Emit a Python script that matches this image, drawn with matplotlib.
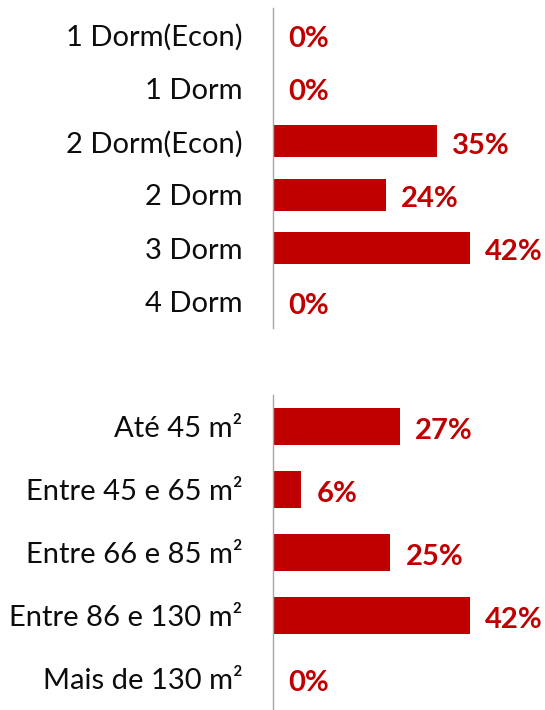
import matplotlib
matplotlib.use("Agg")
import matplotlib.pyplot as plt

# dados
dorm_labels = ["1 Dorm(Econ)", "1 Dorm", "2 Dorm(Econ)", "2 Dorm", "3 Dorm", "4 Dorm"]
dorm_vals = [0, 0, 35, 24, 42, 0]

area_labels = ["Até 45 m²", "Entre 45 e 65 m²", "Entre 66 e 85 m²",
               "Entre 86 e 130 m²", "Mais de 130 m²"]
area_vals = [27, 6, 25, 42, 0]

RED = "#C00000"
plt.rcParams["font.family"] = ["Lato", "DejaVu Sans"]

fig = plt.figure(figsize=(5.45, 7.10), dpi=100)

def draw_panel(ax, labels, vals):
    y = list(range(len(labels)))
    ax.barh(y, vals, height=0.6, color=RED)
    ax.set_ylim(len(labels) - 0.5, -0.5)
    ax.set_xlim(0, 58)
    ax.set_yticks(y)
    ax.set_yticklabels(labels, fontsize=21, color="#0d0d0d")
    ax.tick_params(axis="y", length=0, pad=22)
    ax.set_xticks([])
    for s in ["top", "right", "bottom"]:
        ax.spines[s].set_visible(False)
    ax.spines["left"].set_color("#a6a6a6")
    ax.spines["left"].set_linewidth(1.0)
    for yi, v in zip(y, vals):
        ax.annotate(f"{v}%", xy=(v, yi), xytext=(11, -3), textcoords="offset points",
                    ha="left", va="center", fontsize=21, fontweight="bold", color=RED)

ax1 = fig.add_axes([273 / 545, 1 - 328 / 710, 272 / 545, 320 / 710])
draw_panel(ax1, dorm_labels, dorm_vals)

ax2 = fig.add_axes([273 / 545, 0.0, 272 / 545, 315 / 710])
draw_panel(ax2, area_labels, area_vals)

fig.savefig("out.png", dpi=100, facecolor="white")
